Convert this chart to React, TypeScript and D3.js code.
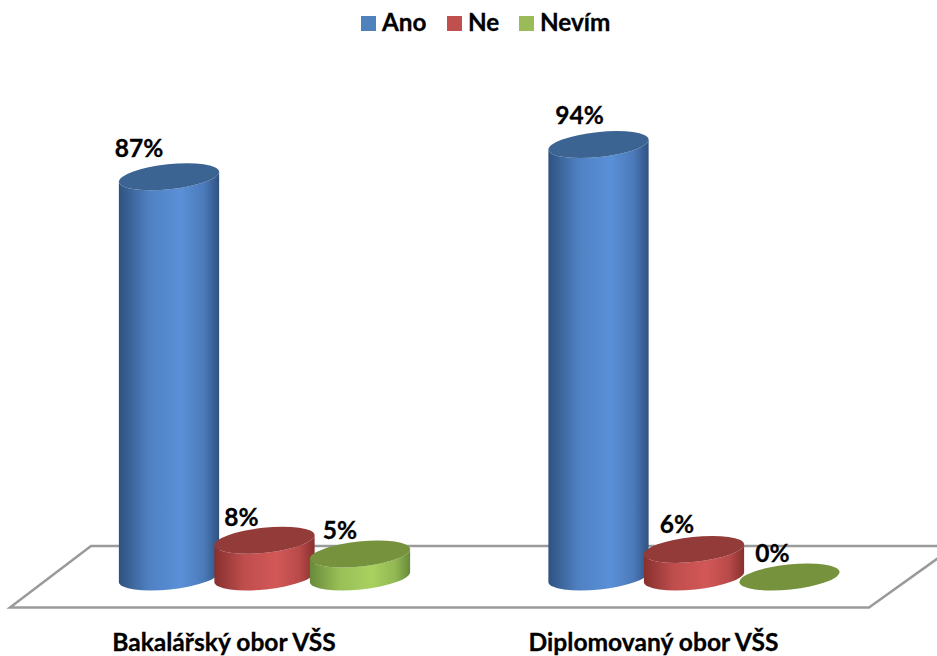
import React from "react";
import * as d3 from "d3";

// Survey shares per study programme, in percent
const categories = ["Bakalářský obor VŠS", "Diplomovaný obor VŠS"];
const seriesNames = ["Ano", "Ne", "Nevím"];
const ano = [87, 94];
const ne = [8, 6];
const nevim = [5, 0];
const seriesValues = [ano, ne, nevim];

const legendColors = ["#4F81BD", "#C0504D", "#9BBB59"];
const edgeColors = ["#2F5280", "#87302E", "#688A3A"];
const midColors = ["#5A90D8", "#D25857", "#A9D160"];
const capColors = ["#3C6493", "#933B39", "#76923C"];

const WIDTH = 937;
const HEIGHT = 656;
const FONT = "Lato, Carlito, sans-serif";
const BASE_Y = 577;
const RX = 50.4;
const RY = 12.5;
const TILT = -6;

const groupX = d3.scaleBand().domain(categories).range([49.75, 908.75]);
const barOffset = d3.scalePoint().domain(seriesNames).range([-95.5, 95.5]);
const heightOf = d3.scaleLinear().domain([0, 100]).range([0, 460]);

// Endpoints of the tilted ellipse's long axis
const dx = RX * Math.cos((TILT * Math.PI) / 180);
const dy = RX * Math.sin((TILT * Math.PI) / 180);

function bodyPath(cx: number, topY: number) {
  return [
    `M${cx - dx},${topY - dy}`,
    `L${cx - dx},${BASE_Y - dy}`,
    `A${RX},${RY} ${TILT} 0 0 ${cx + dx},${BASE_Y + dy}`,
    `L${cx + dx},${topY + dy}`,
    `A${RX},${RY} ${TILT} 0 1 ${cx - dx},${topY - dy}`,
    "Z",
  ].join(" ");
}

// Value labels sit up and to the left of each cap, following the 3D view.
// Indexed by series, then by category.
const labelShift = [
  [{ x: -30, y: -20 }, { x: -19, y: -21 }],
  [{ x: -23, y: -14 }, { x: -17, y: -16 }],
  [{ x: -20, y: -15 }, { x: -17, y: -15 }],
];

const centerOf = (cat: string, name: string) =>
  (groupX(cat) as number) + groupX.bandwidth() / 2 + (barOffset(name) as number);

export default function App() {
  return (
    <svg
      width={WIDTH}
      height={HEIGHT}
      viewBox={`0 0 ${WIDTH} ${HEIGHT}`}
      style={{ position: "absolute", left: 0, top: 0, display: "block", background: "#fff" }}
      fontFamily={FONT}
      fontWeight={700}
      stroke="none"
    >
      <defs>
        {seriesNames.map((name, i) => (
          <linearGradient key={name} id={`shade-${i}`} x1="0" x2="1" y1="0" y2="0">
            <stop offset="0" stopColor={edgeColors[i]} />
            <stop offset="0.3" stopColor={d3.interpolateRgb(edgeColors[i], midColors[i])(0.75)} />
            <stop offset="0.62" stopColor={midColors[i]} />
            <stop offset="0.85" stopColor={d3.interpolateRgb(edgeColors[i], midColors[i])(0.65)} />
            <stop offset="1" stopColor={edgeColors[i]} />
          </linearGradient>
        ))}
      </defs>

      {/* Floor of the 3D plot */}
      <path
        d="M91,546 L955,546 L869,607.5 L10,607.5 Z"
        fill="#fff"
        stroke="#9A9A9A"
        strokeWidth={2.5}
        strokeLinejoin="miter"
      />

      {/* Cylinders, painted left to right so later ones overlap earlier ones */}
      {categories.map((cat, c) =>
        seriesNames.map((name, s) => {
          const value = seriesValues[s][c];
          const cx = centerOf(cat, name);
          const topY = BASE_Y - heightOf(value);
          return (
            <g key={`${cat}-${name}`}>
              {value > 0 && <path d={bodyPath(cx, topY)} fill={`url(#shade-${s})`} />}
              <ellipse
                cx={0}
                cy={0}
                rx={RX}
                ry={RY}
                fill={capColors[s]}
                transform={`translate(${cx},${topY}) rotate(${TILT})`}
              />
            </g>
          );
        })
      )}

      {/* Value labels */}
      {categories.map((cat, c) =>
        seriesNames.map((name, s) => {
          const value = seriesValues[s][c];
          const topY = BASE_Y - heightOf(value);
          return (
            <text
              key={`${cat}-${name}-label`}
              x={centerOf(cat, name) + labelShift[s][c].x}
              y={topY + labelShift[s][c].y}
              textAnchor="middle"
              fontSize={24.5}
              fill="#000"
              stroke="#000"
              strokeWidth={0.3}
            >
              {`${value}%`}
            </text>
          );
        })
      )}

      {/* Category labels */}
      {categories.map((cat) => (
        <text
          key={cat}
          x={(groupX(cat) as number) + groupX.bandwidth() / 2 - 40.5}
          y={651}
          textAnchor="middle"
          fontSize={24.6}
          fill="#000"
          stroke="#000"
          strokeWidth={0.3}
        >
          {cat}
        </text>
      ))}

      {/* Legend */}
      {seriesNames.map((name, i) => {
        const x = [361, 447, 519][i];
        return (
          <g key={name}>
            <rect x={x} y={16} width={15} height={15} fill={legendColors[i]} />
            <text x={x + 21} y={31} fontSize={24.3} fill="#000" stroke="#000" strokeWidth={0.3}>
              {name}
            </text>
          </g>
        );
      })}
    </svg>
  );
}
